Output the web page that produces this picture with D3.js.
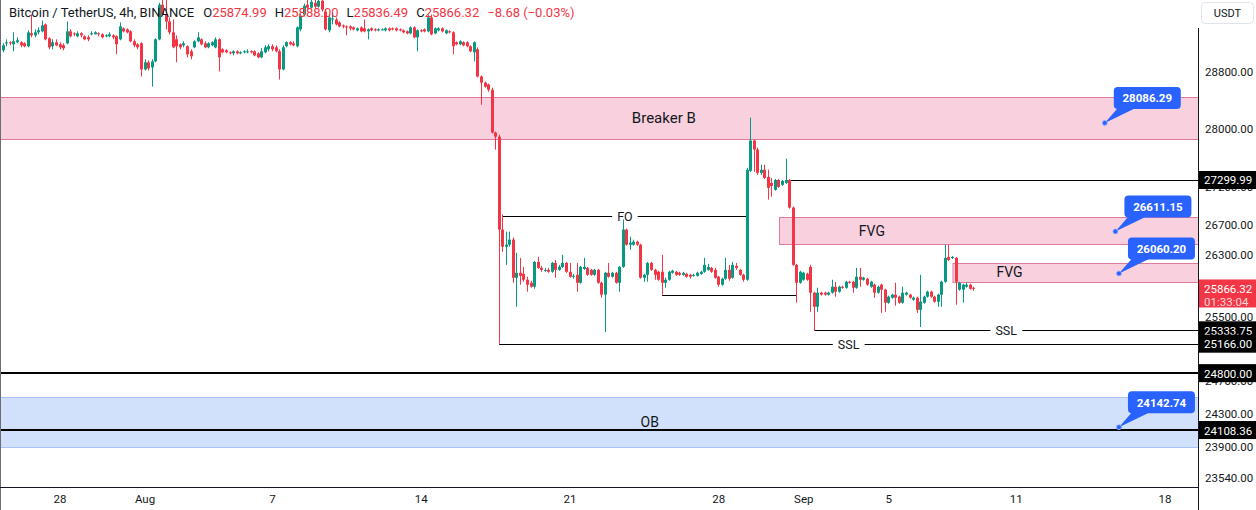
<!DOCTYPE html>
<html><head><meta charset="utf-8">
<script src="https://cdn.jsdelivr.net/npm/d3@7"></script>
<style>
html,body{margin:0;padding:0;background:#fff;overflow:hidden;}
svg{display:block;font-family:Roboto,"Noto Sans",sans-serif;}
</style></head><body>
<svg id="c" width="1256" height="510"></svg>
<script>
// ---- DATA ----
// 4h candles, [open, high, low, close]
const candles = [
[29119,29220,29090,29191],[29220,29278,29177,29235],[29235,29249,29191,29220],[29206,29380,29104,29249],
[29235,29307,29220,29264],[29235,29249,29162,29191],[29220,29235,29162,29177],[29177,29409,29162,29380],
[29365,29641,29307,29336],[29336,29423,29307,29380],[29380,29452,29351,29409],[29394,29554,29380,29481],
[29496,29510,29264,29278],[29293,29307,29133,29162],[29177,29278,29133,29235],[29235,29278,29177,29191],
[29206,29235,29133,29162],[29191,29220,29119,29148],[29220,29539,29206,29394],[29394,29423,29307,29322],
[29365,29380,29322,29351],[29322,29394,29307,29365],[29365,29380,29307,29336],[29322,29336,29264,29278],
[29307,29336,29249,29278],[29351,29394,29336,29365],[29351,29394,29351,29380],[29365,29380,29322,29351],
[29351,29365,29293,29307],[29322,29351,29307,29336],[29322,29380,29307,29351],[29336,29351,29278,29307],
[29322,29336,29061,29206],[29278,29525,29264,29467],[29438,29452,29380,29394],[29423,29438,29365,29380],
[29394,29409,29235,29249],[29249,29278,29162,29191],[29206,29220,29133,29162],[29220,29235,28742,28843],
[28843,28988,28829,28945],[28945,28974,28829,28858],[28872,28988,28597,28959],[28959,29293,28945,29278],
[29278,29815,29264,29786],[29786,29974,29626,29641],[29641,29858,29423,29539],[29539,29597,29351,29380],
[29380,29568,29148,29162],[29278,29336,28945,29177],[29206,29220,29133,29162],[29191,29249,29162,29220],
[29177,29191,29017,29061],[29104,29133,28988,29032],[29162,29264,29148,29249],[29249,29380,29235,29307],
[29278,29293,29191,29206],[29220,29249,29148,29162],[29162,29235,29148,29220],[29191,29249,29177,29235],
[29162,29307,29148,29278],[29278,29293,28814,29017],[29133,29148,29075,29090],[29119,29133,29075,29090],
[29090,29104,29061,29075],[29075,29119,29046,29104],[29104,29119,29061,29075],[29075,29104,29061,29090],
[29090,29119,29075,29104],[29090,29133,29075,29104],[29104,29119,29075,29090],[29104,29119,29032,29046],
[29075,29090,29003,29017],[29017,29148,29003,29104],[29090,29191,29075,29162],[29133,29206,29104,29177],
[29177,29206,29104,29133],[29162,29191,29090,29104],[29104,29133,28698,28843],[28843,29191,28829,29162],
[29177,29249,29162,29235],[29235,29249,29191,29206],[29220,29249,29177,29191],[29177,29467,29162,29452],
[29423,29655,29394,29626],[29641,29800,29612,29771],[29786,29858,29713,29742],[29742,29930,29728,29829],
[29815,29858,29728,29757],[29757,29974,29742,29844],[29844,29902,29684,29713],[29684,29713,29409,29423],
[29409,29641,29380,29597],[29568,29670,29496,29583],[29568,29597,29481,29496],[29525,29539,29452,29467],
[29481,29496,29438,29467],[29467,29481,29336,29452],[29467,29481,29409,29438],[29452,29467,29409,29423],
[29409,29452,29394,29438],[29452,29467,29380,29394],[29438,29568,29380,29394],[29394,29438,29278,29423],
[29438,29452,29394,29409],[29423,29438,29394,29409],[29409,29438,29394,29423],[29409,29438,29409,29423],
[29409,29452,29394,29438],[29438,29452,29394,29409],[29438,29452,29409,29423],[29438,29452,29394,29409],
[29423,29438,29394,29409],[29409,29423,29365,29380],[29394,29409,29351,29365],[29365,29467,29351,29452],
[29452,29467,29293,29307],[29307,29423,29104,29409],[29409,29423,29380,29394],[29423,29438,29380,29394],
[29394,29641,29380,29597],[29597,29641,29336,29351],[29365,29452,29351,29438],[29409,29452,29394,29438],
[29438,29452,29380,29394],[29365,29423,29351,29409],[29394,29409,29365,29380],[29380,29394,29061,29177],
[29235,29249,29191,29206],[29206,29264,29191,29249],[29235,29249,29177,29191],[29235,29249,29162,29177],
[29177,29191,29090,29104],[29090,29249,28959,29235],[29133,29162,28727,28742],[28742,28756,28340,28654],
[28654,28669,28582,28597],[28626,28640,28524,28553],[28553,28582,27938,27952],[27952,27966,27715,27895],
[27895,27923,25166,26635],[26635,26835,26342,26409],[26409,26608,26172,26436],[26436,26608,26409,26502],
[26502,26529,25940,26005],[26005,26329,25632,26069],[26069,26263,25915,26030],[26056,26146,25953,25979],
[25979,26018,25825,25915],[25940,25966,25876,25889],[25889,26223,25863,26210],[26210,26276,26120,26133],
[26133,26159,26082,26107],[26095,26133,26082,26107],[26107,26133,26069,26082],[26082,26210,26069,26197],
[26197,26236,26005,26107],[26107,26172,26095,26146],[26146,26303,26133,26197],[26197,26210,26069,26082],
[26082,26197,26005,26018],[26018,26056,25992,26030],[26043,26197,25825,25940],[25940,26159,25928,26146],
[26120,26263,26107,26146],[26133,26146,26030,26043],[26107,26120,26030,26043],[26043,26120,26030,26107],
[26107,26120,25928,25940],[25940,25953,25748,25787],[25787,26082,25311,26069],[26069,26197,26005,26018],
[26018,26082,26005,26069],[26069,26082,25928,25940],[25940,26159,25825,26146],[26146,26808,26133,26635],
[26635,26648,26422,26436],[26436,26542,26369,26462],[26436,26502,26422,26475],[26475,26489,26422,26436],
[26436,26449,25992,26005],[26005,26056,25953,26043],[26043,26210,25953,26197],[26197,26210,26095,26107],
[26107,26120,25979,26043],[26082,26095,25966,25979],[26082,26303,25787,25940],[25940,26005,25876,25979],
[25979,26095,25966,26082],[26069,26107,26056,26095],[26082,26095,26030,26043],[26069,26082,26030,26043],
[26043,26082,26030,26069],[26056,26069,26005,26018],[26043,26056,25992,26018],[26030,26056,26018,26043],
[26030,26082,26018,26069],[26056,26095,26043,26082],[26082,26263,26069,26172],[26107,26185,26095,26146],
[26133,26146,26069,26082],[26107,26133,25992,26005],[26018,26030,25889,25915],[25915,26005,25902,25992],
[25992,26263,25979,26107],[26107,26172,25966,25992],[26005,26210,25992,26172],[26159,26197,26107,26133],
[26107,26120,26030,26043],[26043,26056,25953,25979],[25979,27466,25966,27439],[27425,28160,27411,27841],
[27841,27855,27411,27716],[27716,27744,27369,27397],[27397,27508,27369,27439],[27439,27508,27314,27328],
[27342,27439,27034,27194],[27260,27328,27074,27220],[27167,27314,27154,27300],[27300,27314,27194,27207],
[27234,27300,27220,27287],[27260,27591,27247,27300],[27300,27314,26914,26928],[26928,26941,26159,26172],
[26172,26185,25684,25940],[25940,26095,25928,26082],[25979,26082,25966,26069],[26056,26069,25966,25979],
[26146,26172,25568,25812],[25812,25825,25334,25632],[25632,25876,25568,25812],[25812,25825,25774,25787],
[25812,25825,25774,25787],[25787,25825,25774,25812],[25812,25979,25799,25889],[25889,25953,25761,25825],
[25825,25902,25812,25889],[25889,25902,25863,25876],[25876,25966,25863,25953],[25953,25966,25928,25940],
[25953,25966,25812,25876],[25876,26133,25863,26018],[26018,26133,25889,25979],[25979,26018,25966,26005],
[25992,26005,25902,25915],[25889,25966,25876,25953],[25915,25928,25748,25812],[25812,25902,25799,25889],
[25915,25928,25555,25851],[25851,25863,25568,25684],[25684,25774,25671,25761],[25748,25799,25735,25787],
[25787,25940,25645,25748],[25761,25774,25671,25684],[25684,25889,25671,25812],[25787,25825,25774,25812],
[25787,25799,25735,25748],[25722,25761,25709,25748],[25748,25761,25555,25594],[25593,26043,25375,25697],
[25684,25774,25671,25761],[25761,25838,25748,25825],[25825,25838,25748,25761],[25761,25774,25684,25697],
[25697,25799,25632,25787],[25787,25966,25632,25953],[25953,26436,25940,26263],[26276,26436,26223,26236],
[26263,26289,26249,26276],[26263,26276,25658,25953],[25851,25953,25838,25940],[25851,25928,25684,25915],
[25889,25940,25876,25915],[25915,25928,25851,25863],[25874.99,25888.00,25836.49,25866.32]
];
const firstCandleTime = "2023-07-25T08:00:00Z";
const candleHours = 4;

const priceTicks = [28800, 28000, 27200, 26700, 26300, 25500, 24700, 24300, 23900, 23540];
const dateTicks = ["2023-07-28","2023-08-01","2023-08-07","2023-08-14","2023-08-21","2023-08-28","2023-09-01","2023-09-05","2023-09-11","2023-09-18"];
const dateTickLabels = ["28","Aug","7","14","21","28","Sep","5","11","18"];

// zones
const zoneNames = ["Breaker B", "FVG", "FVG", "OB"];
const zoneTops = [28450, 26798, 26192, 24507];
const zoneBottoms = [27862, 26441, 25954, 23906];
const zoneStartCandle = [-40, 219, 268, -40];
const zoneLabelTimes = ["2023-08-25T10:00:00Z", "2023-09-04T05:00:00Z", "2023-09-10T16:30:00Z", "2023-08-24T18:00:00Z"];
const zoneKinds = ["pink", "pink", "pink", "blue"];

// horizontal levels
const levelPrices = [26820, 25784, 27299.99, 25333.75, 25166, 24800, 24108.36];
const levelStartCandle = [141, 186, 222, 229, 140, -40, -40];
const levelEndCandle = [210, 224, null, null, null, null, null];
const levelLabels = ["FO", "", "", "SSL", "SSL", "", ""];
const levelWidths = [1, 1, 1, 1, 1, 2, 2];

// price callouts
const calloutPrices = [28086.29, 26611.15, 26060.20, 24142.74];
const calloutTimes = ["2023-09-15T04:00:00Z", "2023-09-15T16:00:00Z", "2023-09-15T20:00:00Z", "2023-09-15T20:00:00Z"];

// right-axis labels
const axisMarkPrices = [27299.99, 25333.75, 25166.00, 24800.00, 24108.36];
const lastPrice = 25866.32;
const countdown = "01:33:04";
const headerTitle = "Bitcoin / TetherUS, 4h, BINANCE";
const headerChange = "\u22128.68 (\u22120.03%)";

// ---- DRAW ----
const W = 1256, H = 510, plotR = 1198, plotB = 487;
const UP = "#089981", DOWN = "#f23645", INK = "#131722";
const svg = d3.select("#c");
const x = d3.scaleUtc().domain([new Date("2023-07-28T00:00:00Z"), new Date("2023-09-18T00:00:00Z")]).range([60, 1165]);
const y = d3.scaleLog().domain([23435, 29856]).range([plotB, 0]);
const t0 = Date.parse(firstCandleTime);
const tOf = i => new Date(t0 + i * candleHours * 3600e3);
const xi = i => x(tOf(i));
const fmt = d3.format(".2f");

svg.append("rect").attr("width", W).attr("height", H).attr("fill", "#fff");
svg.append("clipPath").attr("id", "plot").append("rect").attr("x", 0).attr("y", 0).attr("width", plotR).attr("height", plotB);
const plot = svg.append("g").attr("clip-path", "url(#plot)");

// zones
const zg = plot.append("g");
zoneNames.forEach((name, k) => {
  const x0 = xi(zoneStartCandle[k]);
  const yt = y(zoneTops[k]), yb = y(zoneBottoms[k]);
  const pink = zoneKinds[k] === "pink";
  zg.append("rect").attr("x", x0 + 0.5).attr("y", Math.round(yt) + 0.5).attr("width", plotR + 40 - x0)
    .attr("height", Math.round(yb) - Math.round(yt))
    .attr("fill", pink ? "#f9d0dd" : "#d1e1fc").attr("stroke", pink ? "#de7b9d" : "#a9c3f6").attr("stroke-width", 1);
});

// levels
const lg = plot.append("g");
levelPrices.forEach((p, k) => {
  const x0 = xi(levelStartCandle[k]);
  const x1 = levelEndCandle[k] == null ? plotR : xi(levelEndCandle[k]);
  const yy = levelWidths[k] === 2 ? Math.round(y(p)) : Math.round(y(p)) + 0.5;
  lg.append("line").attr("x1", x0).attr("x2", x1).attr("y1", yy).attr("y2", yy)
    .attr("stroke", "#000").attr("stroke-width", levelWidths[k]);
});

// candles
const cg = plot.append("g");
candles.forEach((c, i) => {
  const [o, h, l, cl] = c;
  const col = cl >= o ? UP : DOWN;
  const cx = xi(i);
  const xr = Math.round(cx - 1.5);
  cg.append("line").attr("x1", xr + 1.5).attr("x2", xr + 1.5).attr("y1", y(h)).attr("y2", y(l))
    .attr("stroke", col).attr("stroke-width", 1);
  const yt = y(Math.max(o, cl)), yb = y(Math.min(o, cl));
  cg.append("rect").attr("x", xr).attr("width", 3).attr("y", yt).attr("height", Math.max(1, yb - yt)).attr("fill", col);
});

// zone labels
zoneNames.forEach((name, k) => {
  const cy = (y(zoneTops[k]) + y(zoneBottoms[k])) / 2;
  plot.append("text").attr("x", x(new Date(zoneLabelTimes[k]))).attr("y", cy).attr("text-anchor", "middle")
    .attr("dominant-baseline", "central").attr("font-size", k === 0 ? 15 : 14).attr("fill", INK).text(name);
});

// level labels (with gap)
levelPrices.forEach((p, k) => {
  if (!levelLabels[k]) return;
  const x0 = xi(levelStartCandle[k]);
  const x1 = levelEndCandle[k] == null ? plotR : xi(levelEndCandle[k]);
  const cx = (x0 + x1) / 2, cy = Math.round(y(p)) + 0.5;
  const t = plot.append("text").attr("x", cx).attr("y", cy).attr("text-anchor", "middle")
    .attr("dominant-baseline", "central").attr("font-size", 12.5).attr("fill", INK).text(levelLabels[k]);
  const bb = t.node().getBBox();
  plot.insert("rect", "text:last-child").attr("x", bb.x - 5).attr("y", cy - 3).attr("width", bb.width + 10).attr("height", 6).attr("fill", "#fff");
  t.raise();
});

// callouts
calloutPrices.forEach((p, k) => {
  const dx = x(new Date(calloutTimes[k])), dy = y(p);
  const bx = dx + 9, by = dy - 36, bw = 67, bh = 22;
  const g = plot.append("g");
  g.append("path").attr("d", `M${bx + 4},${by + bh - 1} L${bx + 22},${by + bh - 1} L${dx},${dy} Z`).attr("fill", "#2962ff");
  g.append("rect").attr("x", bx).attr("y", by).attr("width", bw).attr("height", bh).attr("rx", 4).attr("fill", "#2962ff");
  g.append("circle").attr("cx", dx).attr("cy", dy).attr("r", 2.5).attr("fill", "#2962ff").attr("stroke", "#9fb8ff").attr("stroke-width", 0.8);
  g.append("text").attr("x", bx + bw / 2).attr("y", by + bh / 2 + 0.5).attr("text-anchor", "middle").attr("dominant-baseline", "central")
    .attr("font-size", 11.5).attr("font-weight", "bold").attr("fill", "#fff").text(fmt(p));
});

// frame
svg.append("line").attr("x1", 0.5).attr("x2", 0.5).attr("y1", 0).attr("y2", H).attr("stroke", "#6a6d78");
svg.append("line").attr("x1", 0).attr("x2", plotR).attr("y1", plotB + 0.5).attr("y2", plotB + 0.5).attr("stroke", INK);
svg.append("line").attr("x1", plotR + 0.5).attr("x2", plotR + 0.5).attr("y1", 28).attr("y2", H).attr("stroke", INK);

// price axis ticks
const ax = svg.append("g");
priceTicks.forEach(p => {
  ax.append("text").attr("x", 1205).attr("y", y(p)).attr("dominant-baseline", "central")
    .attr("font-size", 11.5).attr("fill", INK).text(fmt(p));
});
// marked levels on axis
axisMarkPrices.forEach(p => {
  const yy = y(p);
  ax.append("rect").attr("x", plotR + 1).attr("y", yy - 9).attr("width", W - plotR - 1).attr("height", 18).attr("fill", "#000");
  ax.append("text").attr("x", 1204).attr("y", yy + 0.5).attr("dominant-baseline", "central")
    .attr("font-size", 11.5).attr("fill", "#fff").text(fmt(p));
});
// last price
{
  const yy = y(lastPrice);
  ax.append("rect").attr("x", plotR + 1).attr("y", yy - 9).attr("width", W - plotR - 1).attr("height", 28).attr("fill", "#f23645");
  ax.append("text").attr("x", 1204).attr("y", yy + 0.5).attr("dominant-baseline", "central").attr("font-size", 11.5).attr("fill", "#fff").text(fmt(lastPrice));
  ax.append("text").attr("x", 1204).attr("y", yy + 13.5).attr("dominant-baseline", "central").attr("font-size", 11.5).attr("fill", "#ffd6da").text(countdown);
}
// USDT box
svg.append("rect").attr("x", 1201.5).attr("y", 2.5).attr("width", 52).attr("height", 21).attr("rx", 4).attr("fill", "#fff").attr("stroke", "#e0e3eb");
svg.append("text").attr("x", 1227.5).attr("y", 13.5).attr("text-anchor", "middle").attr("dominant-baseline", "central").attr("font-size", 11).attr("fill", INK).text("USDT");

// time axis
dateTicks.forEach((d, k) => {
  svg.append("text").attr("x", x(new Date(d + "T00:00:00Z"))).attr("y", 499).attr("text-anchor", "middle").attr("dominant-baseline", "central")
    .attr("font-size", 11.5).attr("fill", INK).text(dateTickLabels[k]);
});

// header legend
const last = candles[candles.length - 1];
const hd = svg.append("text").attr("x", 9).attr("y", 12).attr("dominant-baseline", "central").attr("font-size", 13).attr("fill", INK);
hd.append("tspan").text(headerTitle);
const hcol = last[3] >= last[0] ? UP : DOWN;
[["O", last[0]], ["H", last[1]], ["L", last[2]], ["C", last[3]]].forEach(([k, v], j) => {
  hd.append("tspan").attr("dx", j === 0 ? 9 : 8).attr("fill", INK).text(k);
  hd.append("tspan").attr("fill", hcol).text(fmt(v));
});
hd.append("tspan").attr("dx", 8).attr("fill", hcol).text(headerChange);
</script>
</body></html>
